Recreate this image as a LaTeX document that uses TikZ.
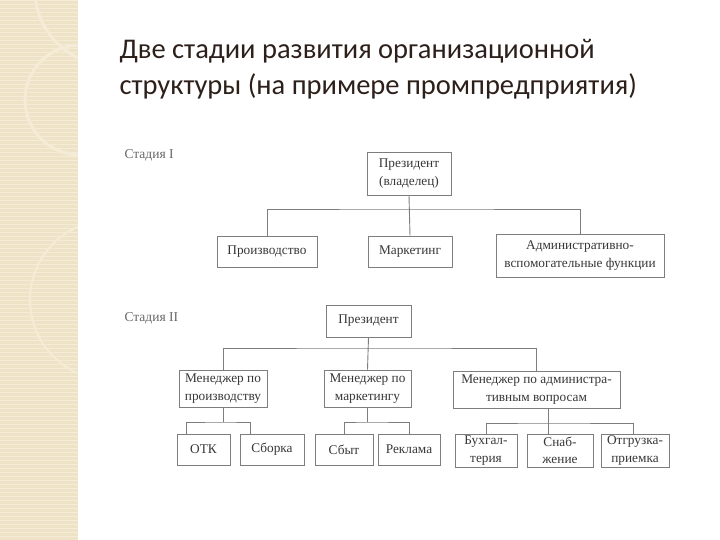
\documentclass[tikz,border=0pt]{standalone}
\usepackage{fontspec}
\setmainfont{Liberation Serif}
\newfontfamily\titlefont{Carlito}
\definecolor{bandbeige}{RGB}{238,227,198}
\definecolor{bandlight}{RGB}{244,236,214}
\definecolor{titlebrown}{RGB}{45,32,26}
\definecolor{boxgray}{RGB}{125,125,125}
\definecolor{textgray}{RGB}{55,55,55}
\tikzset{
  orgbox/.style={draw=boxgray, line width=0.9pt, fill=white, inner sep=0pt,
    align=center, text=textgray, font=\fontsize{13.3}{17.5}\selectfont},
  stagelabel/.style={anchor=west, text=black!60, font=\fontsize{13.5}{15}\selectfont},
  link/.style={draw=boxgray, line width=0.9pt}
}
\begin{document}
\begin{tikzpicture}[x=1pt, y=-1pt]
\useasboundingbox (0,0) rectangle (720,540);
\fill[white] (0,0) rectangle (720,540);

% decorative band on the left
\fill[bandbeige] (0,0) rectangle (78,540);
\foreach \yy in {0,4,...,536}
  \draw[bandlight, line width=0.7pt] (0,\yy) -- (78,\yy);
\begin{scope}
  \clip (0,0) rectangle (78,540);
  \draw[bandlight, line width=3pt] (80,100) circle (55);
  \draw[bandlight, line width=3pt] (110,-10) circle (75);
  \draw[bandlight, line width=2pt] (110,300) circle (80);
\end{scope}

% title
\node[anchor=west, text=titlebrown, font=\titlefont\fontsize{28.5}{36}\selectfont, align=left]
  (title) at (116,69) {Две стадии развития организационной\\структуры (на примере промпредприятия)};

% stage I
\node[stagelabel] (st1) at (121,155) {Стадия I};
\node[orgbox, minimum width=84, minimum height=43] (pres1) at (409,173.5) {Президент\\(владелец)};
\node[orgbox, minimum width=100, minimum height=31] (prod1) at (267,251.5) {Производство};
\node[orgbox, minimum width=84, minimum height=31] (mkt1) at (410,251.5) {Маркетинг};
\node[orgbox, minimum width=168, minimum height=43] (adm1) at (580,255.5) {Административно-\\вспомогательные функции};

\coordinate (bus1) at (410,209);
\draw[link] (pres1.south) -- (mkt1.north);
\draw[link] (prod1.north) |- (bus1) -| (adm1.north);

% stage II
\node[stagelabel] (st2) at (121,318) {Стадия II};
\node[orgbox, minimum width=85, minimum height=32] (pres2) at (368.5,321) {Президент};
\node[orgbox, minimum width=88, minimum height=37] (mgrp) at (223,388.5) {Менеджер по\\производству};
\node[orgbox, minimum width=87, minimum height=37] (mgrm) at (367.5,388.5) {Менеджер по\\маркетингу};
\node[orgbox, minimum width=167, minimum height=37] (mgra) at (536.5,389.5) {Менеджер по администра-\\тивным вопросам};

\node[orgbox, minimum width=53, minimum height=31] (otk) at (203.5,449.5) {ОТК};
\node[orgbox, minimum width=64, minimum height=31] (sbor) at (272,449.5) {Сборка};
\node[orgbox, minimum width=58, minimum height=31] (sbyt) at (344,449.5) {Сбыт};
\node[orgbox, minimum width=62, minimum height=31] (rekl) at (409,449.5) {Реклама};
\node[orgbox, minimum width=62, minimum height=33] (buh) at (486,450.5) {Бухгал-\\терия};
\node[orgbox, minimum width=66, minimum height=33] (snab) at (560,450.5) {Снаб-\\жение};
\node[orgbox, minimum width=68, minimum height=33] (otgr) at (635,450.5) {Отгрузка-\\приемка};

\coordinate (bus2) at (368.5,348);
\draw[link] (pres2.south) -- (mgrm.north);
\draw[link] (mgrp.north) |- (bus2) -| (mgra.north);

% sub-units
\coordinate (busp) at (223,422);
\draw[link] (mgrp.south) -- (busp);
\draw[link] ([xshift=10]otk.north west) |- (busp) -| ([xshift=11]sbor.north west);

\coordinate (busm) at (367.5,422);
\draw[link] (mgrm.south) -- (busm);
\draw[link] (sbyt.north) |- (busm) -| (rekl.north);

\coordinate (busa) at (548,423);
\draw[link] ([xshift=11.5]mgra.south) -- ([xshift=-12]snab.north);
\draw[link] (buh.north) |- (busa) -| ([xshift=-2]otgr.north);
\end{tikzpicture}
\end{document}
